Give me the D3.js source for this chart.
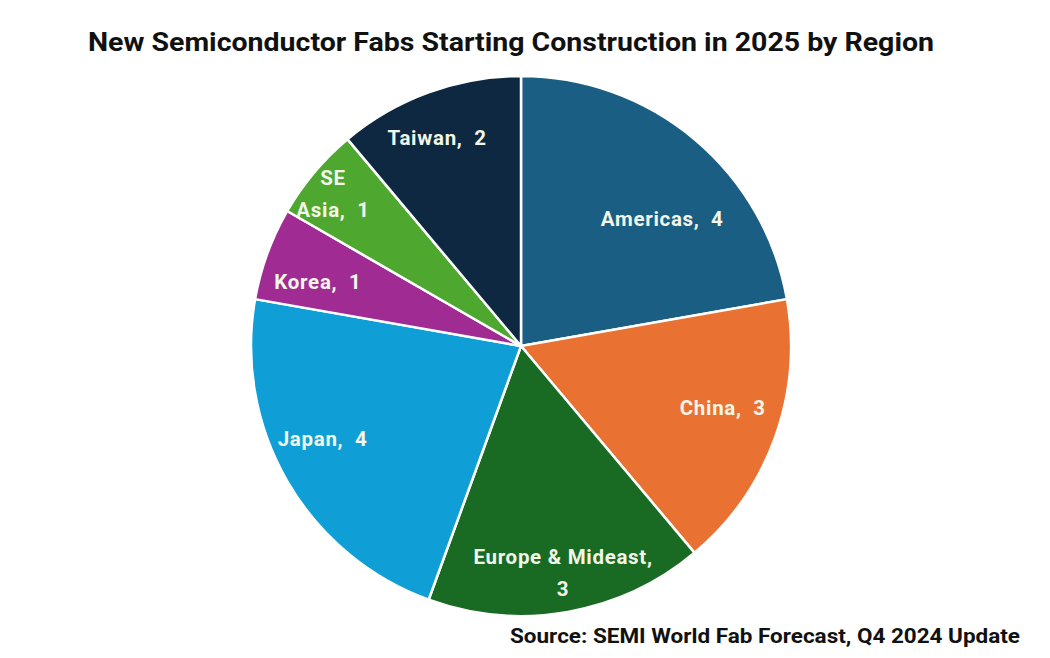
<!DOCTYPE html>
<html><head><meta charset="utf-8">
<script src="https://cdn.jsdelivr.net/npm/d3@7"></script>
<style>body{margin:0;background:#fff}svg{display:block}</style>
</head><body>
<svg id="c" width="1050" height="658"></svg>
<script>
const regions = ["Americas", "China", "Europe & Mideast", "Japan", "Korea", "SE Asia", "Taiwan"];
const fabs = [4, 3, 3, 4, 1, 1, 2];
const colors = ["#1a5e84", "#e97132", "#196b24", "#0f9ed5", "#a02b93", "#4ea72e", "#0e2841"];
const labelLines = [["Americas,\u00a0 4"], ["China,\u00a0 3"], ["Europe & Mideast,"], ["Japan,\u00a0 4"], ["Korea,\u00a0 1"], ["SE", "Asia,\u00a0 1"], ["Taiwan,\u00a0 2"]];
labelLines[2].push("3");

const svg = d3.select("#c");
const cx = 521, cy = 346, r = 270;
const data = regions.map((k, i) => ({region: k, value: fabs[i], color: colors[i], lines: labelLines[i]}));
const pie = d3.pie().value(d => d.value).sort(null);
const arc = d3.arc().innerRadius(0).outerRadius(r);
const g = svg.append("g").attr("transform", `translate(${cx},${cy})`);
const arcs = pie(data);
g.selectAll("path").data(arcs).join("path")
  .attr("d", arc).attr("fill", d => d.data.color)
  .attr("stroke", "#fff").attr("stroke-width", 2.5).attr("stroke-linejoin", "round");

const labelR = [190, 211, 231, 219, 213, 242, 224];
const labelA = [48, 107, 169.5, 245, 287.5, 309, 338];
g.selectAll("text.lab").data(arcs).join("text").attr("class", "lab")
  .attr("font-family", "Roboto, 'DejaVu Sans', sans-serif").attr("font-weight", "bold")
  .attr("font-size", 20.5).attr("letter-spacing", 0.7).attr("fill", "#f2f6e8").attr("text-anchor", "middle")
  .each(function(d, i) {
    const a = labelA[i] * Math.PI / 180;
    const x = labelR[i] * Math.sin(a), y = -labelR[i] * Math.cos(a);
    const n = d.data.lines.length, lh = 32;
    d3.select(this).selectAll("tspan").data(d.data.lines).join("tspan")
      .attr("x", x).attr("y", (t, j) => y + (j - (n - 1) / 2) * lh + 7).text(t => t);
  });

svg.append("text").attr("x", 511).attr("y", 51).attr("text-anchor", "middle")
  .attr("font-family", "Roboto, sans-serif").attr("font-weight", "bold").attr("font-size", 26)
  .attr("fill", "#111").attr("textLength", 846).attr("lengthAdjust", "spacingAndGlyphs")
  .text("New Semiconductor Fabs Starting Construction in 2025 by Region");

svg.append("text").attr("x", 1020).attr("y", 643).attr("text-anchor", "end")
  .attr("font-family", "Roboto, sans-serif").attr("font-weight", "bold").attr("font-size", 19.5)
  .attr("fill", "#111").attr("textLength", 510).attr("lengthAdjust", "spacingAndGlyphs")
  .text("Source: SEMI World Fab Forecast, Q4 2024 Update");
</script>
</body></html>
